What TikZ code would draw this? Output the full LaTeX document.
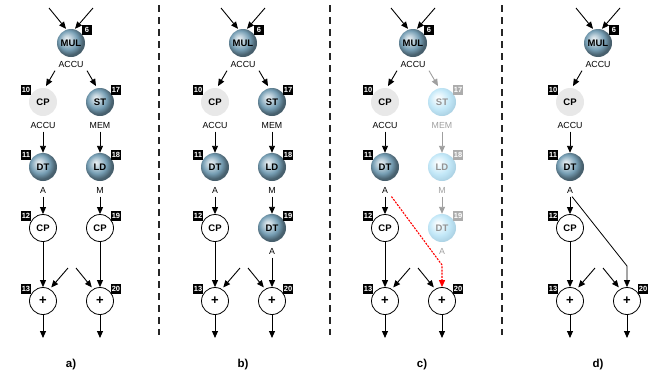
\documentclass[tikz,border=0pt]{standalone}
\usepackage{fontspec}
\setmainfont{Liberation Sans}
\usetikzlibrary{arrows.meta}
\definecolor{opblue}{RGB}{118,158,180}
\definecolor{opfade}{RGB}{195,232,248}
\definecolor{cpgrey}{RGB}{232,232,232}
\pgfdeclareradialshading{opball}{\pgfpoint{-8bp}{8bp}}{color(0bp)=(opblue!15!white); color(7bp)=(opblue!45!white); color(17bp)=(opblue); color(25bp)=(opblue!62!black); color(50bp)=(opblue!40!black)}
\pgfdeclareradialshading{fadeball}{\pgfpoint{-8bp}{8bp}}{color(0bp)=(white); color(8bp)=(opfade!40!white); color(18bp)=(opfade); color(25bp)=(opfade!80!opblue); color(50bp)=(opblue)}
\begin{document}
\begin{tikzpicture}[x=1pt,y=-1pt,
  every node/.style={font=\fontsize{8.8}{9}\selectfont},
  op/.style={circle,inner sep=0pt,minimum size=28pt,font=\fontsize{9.5}{10}\selectfont\bfseries},
  ball/.style={op,shading=opball},
  fadeball/.style={op,shading=fadeball,text=gray!85},
  greyop/.style={op,fill=cpgrey},
  plainop/.style={op,draw,line width=0.8pt,fill=white,minimum size=27pt},
  plusop/.style={plainop,font=\fontsize{13}{13}\selectfont\bfseries},
  tag/.style={fill=black,text=white,inner sep=0.8pt,minimum width=10.5pt,minimum height=9.5pt,font=\fontsize{7.5}{7.5}\selectfont\bfseries},
  fadetag/.style={tag,fill=gray!65},
  fadelab/.style={text=gray!75},
  arr/.style={-{Triangle[length=7pt,width=6pt]},line width=0.9pt},
  fadearr/.style={arr,gray!75},
  redarr/.style={arr,red,line width=1.1pt,dash pattern=on 2pt off 1.2pt},
  sep/.style={dash pattern=on 7pt off 5pt,line width=1.2pt,black!85},
  panel/.style={font=\fontsize{11.5}{12}\selectfont\bfseries}]
\useasboundingbox (0,0) rectangle (654,378);
% separators
\draw[sep] (159,5) -- (159,335);
\draw[sep] (330,5) -- (330,335);
\draw[sep] (502,5) -- (502,335);
% parts that all four panels share
\foreach \p/\L/\px in {a/43/71,b/215/243,c/385/422,d/570/598}{
  \node[ball] (\p-mul) at (\L+28,43) {MUL};
  \node[tag] (\p-t6) at (\L+44,30) {6};
  \coordinate (\p-in1) at (\L+6,8);
  \coordinate (\p-in2) at (\L+50,8);
  \draw[arr] (\p-in1) -- ([xshift=-5pt]\p-mul.north);
  \draw[arr] (\p-in2) -- ([xshift=4pt]\p-mul.north);
  \node (\p-acc0) at (\L+28,64) {ACCU};
  \node[greyop] (\p-cp1) at (\L,102) {CP};
  \node[tag] (\p-t10) at (\L-17,90) {10};
  \draw[arr,shorten >=2pt] (\p-acc0.south west) -- ([xshift=2pt]\p-cp1.north);
  \node (\p-acc1) at (\L,125) {ACCU};
  \node[ball] (\p-dt) at (\L,167) {DT};
  \node[tag] (\p-t11) at (\L-17,155) {11};
  \draw[arr] (\p-acc1) -- (\p-dt);
  \node (\p-a) at (\L,190) {A};
  \node[plainop] (\p-cp2) at (\L,228) {CP};
  \node[tag] (\p-t12) at (\L-17,216) {12};
  \draw[arr] (\p-a) -- (\p-cp2);
  \node[plusop] (\p-p1) at (\L,301) {+};
  \node[tag] (\p-t13) at (\L-17,289) {13};
  \node[plusop] (\p-p2) at (\L+57,301) {+};
  \node[tag] (\p-t20) at (\L+73,289) {20};
  \draw[arr] (\p-cp2) -- (\p-p1);
  \coordinate (\p-d1) at (\L+25,268);
  \coordinate (\p-d2) at (\L+33,268);
  \draw[arr,shorten >=2pt] (\p-d1) -- (\p-p1.60);
  \draw[arr,shorten >=2pt] (\p-d2) -- (\p-p2.120);
  \coordinate (\p-o1) at (\L,338);
  \coordinate (\p-o2) at (\L+57,338);
  \draw[arr] (\p-p1) -- (\p-o1);
  \draw[arr] (\p-p2) -- (\p-o2);
  \node[panel] (\p-lab) at (\px,365) {\p)};
}
% a) right column
\node[ball] (a-st) at (100,102) {ST};
\node[tag] (a-t17) at (116,90) {17};
\draw[arr,shorten >=2pt] (a-acc0.south east) -- ([xshift=-3pt]a-st.north);
\node (a-mem) at (100,125) {MEM};
\node[ball] (a-ld) at (100,167) {LD};
\node[tag] (a-t18) at (116,155) {18};
\draw[arr] (a-mem) -- (a-ld);
\node (a-m) at (100,190) {M};
\node[plainop] (a-cp3) at (100,228) {CP};
\node[tag] (a-t19) at (116,216) {19};
\draw[arr] (a-m) -- (a-cp3);
\draw[arr] (a-cp3) -- (a-p2);
% b) right column
\node[ball] (b-st) at (272,102) {ST};
\node[tag] (b-t17) at (288,90) {17};
\draw[arr,shorten >=2pt] (b-acc0.south east) -- ([xshift=-3pt]b-st.north);
\node (b-mem) at (272,125) {MEM};
\node[ball] (b-ld) at (272,167) {LD};
\node[tag] (b-t18) at (288,155) {18};
\draw[arr] (b-mem) -- (b-ld);
\node (b-m) at (272,190) {M};
\node[ball] (b-dt2) at (272,228) {DT};
\node[tag] (b-t19) at (288,216) {19};
\draw[arr] (b-m) -- (b-dt2);
\node (b-a2) at (272,251) {A};
\draw[arr] (b-a2) -- (b-p2);
% c) right column, faded
\node[fadeball] (c-st) at (442,102) {ST};
\node[fadetag] (c-t17) at (458,90) {17};
\draw[fadearr,shorten >=2pt] (c-acc0.south east) -- ([xshift=-3pt]c-st.north);
\node[fadelab] (c-mem) at (442,125) {MEM};
\node[fadeball] (c-ld) at (442,167) {LD};
\node[fadetag] (c-t18) at (458,155) {18};
\draw[fadearr] (c-mem) -- (c-ld);
\node[fadelab] (c-m) at (442,190) {M};
\node[fadeball] (c-dt2) at (442,228) {DT};
\node[fadetag] (c-t19) at (458,216) {19};
\draw[fadearr] (c-m) -- (c-dt2);
\node[fadelab] (c-a2) at (442,251) {A};
\coordinate (c-bend) at (442,265);
\draw[redarr] (c-a.south east) -- (c-bend) -- (c-p2);
% d) A goes straight to the second adder
\coordinate (d-bend) at (627,266);
\draw[arr,line width=0.8pt] ([xshift=2pt]d-a.south) -- (d-bend) -- (d-p2);
\end{tikzpicture}
\end{document}
